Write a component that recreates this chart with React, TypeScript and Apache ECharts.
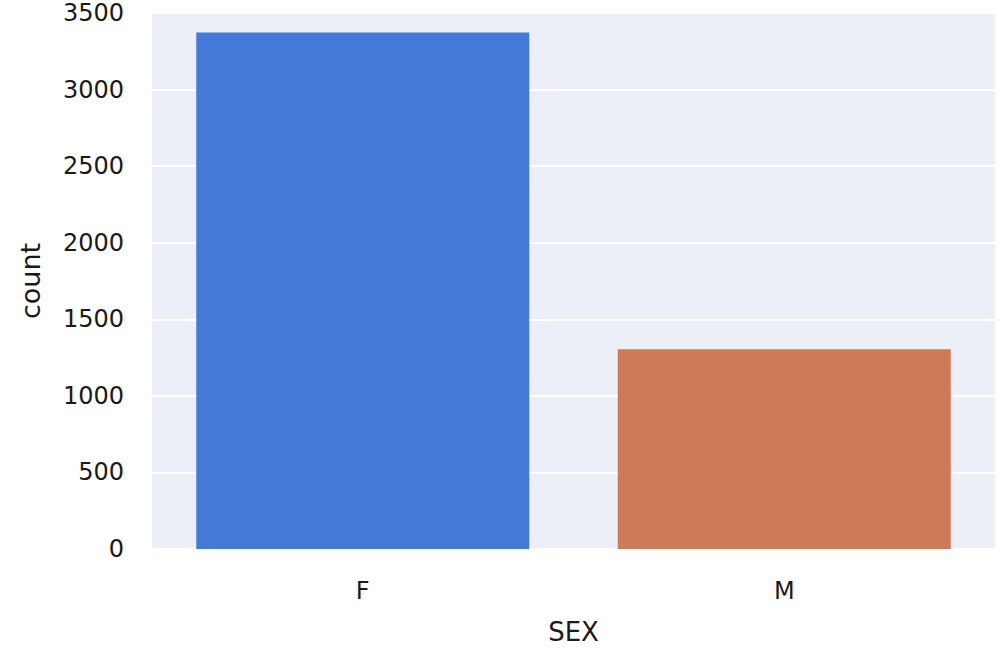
import React, { useEffect, useRef } from "react";
import * as echarts from "echarts";

const categories = ["F", "M"];
const counts = [3372, 1304];
const barColors = ["#4679d8", "#cd7a58"];
const yTicks = { min: 0, max: 3500, interval: 500 };

export default function App() {
  const ref = useRef<HTMLDivElement>(null);
  useEffect(() => {
    if (!ref.current) return;
    const chart = echarts.init(ref.current, undefined, { renderer: "svg" });
    chart.setOption({
      animation: false,
      backgroundColor: "#ffffff",
      textStyle: { fontFamily: "DejaVu Sans" },
      grid: {
        left: 152,
        right: 5,
        top: 13,
        bottom: 100,
        show: true,
        backgroundColor: "#eceef8",
        borderWidth: 0,
      },
      xAxis: {
        type: "category",
        data: categories,
        name: "SEX",
        nameLocation: "middle",
        nameGap: 70,
        nameTextStyle: { fontSize: 26, color: "#1a1a1a" },
        axisLine: { show: false },
        axisTick: { show: false },
        axisLabel: { fontSize: 24, color: "#1a1a1a", margin: 30 },
        splitLine: { show: false },
      },
      yAxis: {
        type: "value",
        min: yTicks.min,
        max: yTicks.max,
        interval: yTicks.interval,
        name: "count",
        nameLocation: "middle",
        nameGap: 108,
        nameTextStyle: { fontSize: 27, color: "#1a1a1a" },
        axisLine: { show: false },
        axisTick: { show: false },
        axisLabel: {
          fontSize: 24,
          color: "#1a1a1a",
          margin: 28,
          formatter: (v: number) => String(v),
        },
        splitLine: { show: true, lineStyle: { color: "#ffffff", width: 2 } },
      },
      series: [
        {
          type: "bar",
          data: counts.map((v, i) => ({ value: v, itemStyle: { color: barColors[i] } })),
          barCategoryGap: "21%",
        },
      ],
    });
    return () => chart.dispose();
  }, []);
  return (
    <div
      ref={ref}
      style={{ position: "fixed", left: 0, top: 0, width: 1000, height: 650 }}
    />
  );
}
